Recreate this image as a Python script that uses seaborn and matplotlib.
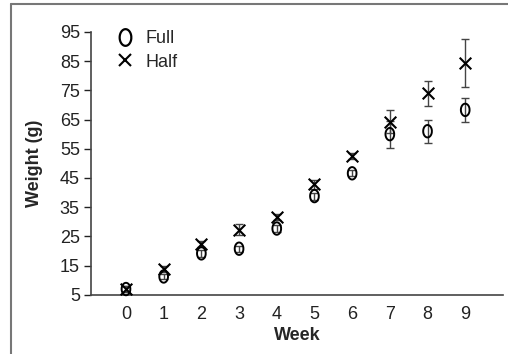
import numpy as np
import pandas as pd
import matplotlib
matplotlib.use("Agg")
import matplotlib.pyplot as plt
from matplotlib.path import Path
from matplotlib.lines import Line2D
import seaborn as sns

# Data
weeks = [0, 1, 2, 3, 4, 5, 6, 7, 8, 9]
full_mean = [7.0, 11.3, 19.2, 20.8, 27.7, 38.8, 46.6, 60.0, 61.0, 68.3]
full_err = [1.0, 1.0, 1.3, 1.0, 1.2, 1.2, 1.0, 4.6, 4.0, 4.1]
half_mean = [7.0, 13.9, 22.5, 27.3, 31.6, 42.9, 52.4, 64.3, 74.0, 84.5]
half_err = [1.0, 1.0, 1.0, 1.8, 1.0, 1.5, 1.0, 3.8, 4.2, 8.2]
y_ticks = [5, 15, 25, 35, 45, 55, 65, 75, 85, 95]

df = pd.DataFrame({
    "Week": weeks * 2,
    "Weight": full_mean + half_mean,
    "Err": full_err + half_err,
    "Diet": ["Full"] * len(weeks) + ["Half"] * len(weeks),
})

sns.set_style("white")
plt.rcParams["font.family"] = ["Liberation Sans", "DejaVu Sans"]

fig = plt.figure(figsize=(5.08, 3.54), dpi=100)
ax = fig.add_axes([0.179, 0.167, 0.811, 0.743])

# tall "O" shaped marker
t = np.linspace(0, 2 * np.pi, 60)
oval = Path(np.column_stack([0.7 * np.cos(t), np.sin(t)]))

err_kw = dict(fmt="none", ecolor="#444444", elinewidth=1.0, capsize=3, capthick=1.0, zorder=2)
for diet in ["Full", "Half"]:
    d = df[df["Diet"] == diet]
    ax.errorbar(d["Week"], d["Weight"], yerr=d["Err"], **err_kw)

full = df[df["Diet"] == "Full"]
half = df[df["Diet"] == "Half"]
sns.scatterplot(x=full["Week"], y=full["Weight"], marker=oval, s=80,
                facecolor="none", edgecolor="black", linewidth=1.4,
                ax=ax, zorder=3, clip_on=False)
sns.scatterplot(x=half["Week"], y=half["Weight"], marker="x", s=70,
                color="black", linewidth=1.5, ax=ax, zorder=3, clip_on=False)

ax.set_xlim(-0.93, 10.0)
ax.set_ylim(5, 95)
ax.set_xticks(weeks)
ax.set_yticks(y_ticks)
ax.tick_params(axis="x", length=0, pad=8, labelsize=13, colors="#222222")
ax.tick_params(axis="y", length=5, width=1, pad=3, labelsize=13, colors="#222222", left=True)
for side in ["top", "right"]:
    ax.spines[side].set_visible(False)
for side in ["left", "bottom"]:
    ax.spines[side].set_color("#444444")
    ax.spines[side].set_linewidth(1.2)

ax.set_xlabel("Week", fontsize=13, fontweight="bold", labelpad=3)
ax.set_ylabel("Weight (g)", fontsize=13, fontweight="bold", labelpad=12)

handles = [
    Line2D([], [], marker=oval, markersize=12, markerfacecolor="none",
           markeredgecolor="black", markeredgewidth=1.6, linestyle="none"),
    Line2D([], [], marker="x", markersize=8, color="black",
           markeredgewidth=1.5, linestyle="none"),
]
ax.legend(handles, ["Full", "Half"], loc="upper left", bbox_to_anchor=(0.018, 1.067),
          frameon=False, fontsize=13, handletextpad=0.5, labelspacing=0.35,
          handlelength=1.2)

# outer frame (left and top edges)
fig.add_artist(Line2D([0.0217, 0.0217], [0.0, 0.9887], color="#777777", lw=1.5))
fig.add_artist(Line2D([0.0217, 1.0], [0.9887, 0.9887], color="#777777", lw=1.5))

fig.savefig("out.png", dpi=100)
